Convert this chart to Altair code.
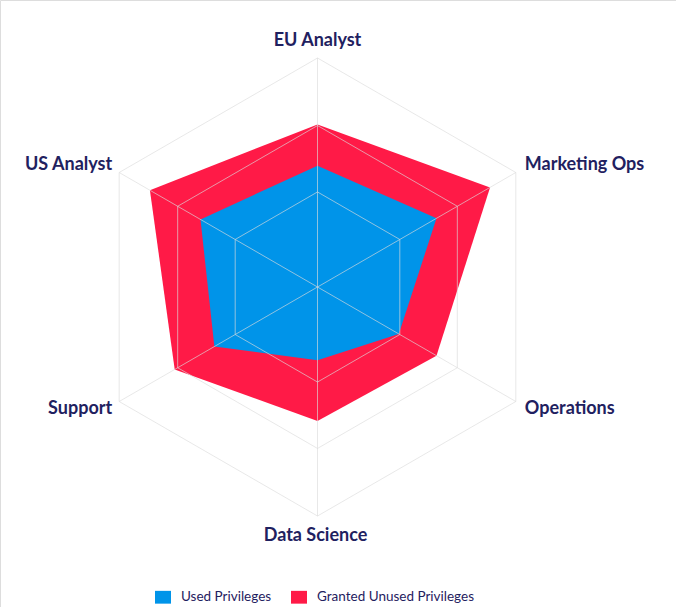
import math
import pandas as pd
import altair as alt

categories = ["EU Analyst", "Marketing Ops", "Operations", "Data Science", "Support", "US Analyst"]
used = [0.53, 0.60, 0.41, 0.32, 0.52, 0.59]
granted = [0.71, 0.87, 0.60, 0.585, 0.72, 0.845]
grid_levels = [0.415, 0.705, 1.0]
series = ["Used Privileges", "Granted Unused Privileges"]

BLUE = "#0094E9"
RED = "#FF1A47"
NAVY = "#1F2160"
GRID = "#dcdcdc"

angles = [math.radians(90 - 60 * i) for i in range(len(categories))]

# polygons
rows = []
for s, vals in [(series[1], granted), (series[0], used)]:
    for i, (c, v) in enumerate(zip(categories, vals)):
        rows.append({"series": s, "cat": c, "idx": i,
                     "x": v * math.cos(angles[i]), "y": v * math.sin(angles[i])})
poly = pd.DataFrame(rows)

grid_rows = []
for lv in grid_levels:
    for i in range(len(categories)):
        grid_rows.append({"level": lv, "idx": i,
                          "x": lv * math.cos(angles[i]), "y": lv * math.sin(angles[i])})
grid = pd.DataFrame(grid_rows)

spokes = pd.DataFrame([{"cat": c, "x0": 0.0, "y0": 0.0,
                        "x1": math.cos(a), "y1": math.sin(a)}
                       for c, a in zip(categories, angles)])

labels = pd.DataFrame([{"cat": c, "x": math.cos(a), "y": math.sin(a)}
                       for c, a in zip(categories, angles)])

R = 229.0
cx, cy = 317.5, 287.0
W, H = 676, 607
xs = alt.Scale(domain=[-cx / R, (W - cx) / R], nice=False, zero=False)
ys = alt.Scale(domain=[(cy - H) / R, cy / R], nice=False, zero=False)

color = alt.Color(
    "series:N",
    scale=alt.Scale(domain=series, range=[BLUE, RED]),
    legend=alt.Legend(
        title=None, orient="none", legendX=155, legendY=589,
        direction="horizontal",
        symbolType="M-1,-0.8H1V0.8H-1Z", symbolSize=256,
        symbolStrokeWidth=0, symbolOpacity=1,
        labelFont="Lato", labelFontSize=13.5, labelColor=NAVY,
        labelOffset=10, columnPadding=19,
    ),
)

def poly_layer(s):
    return alt.Chart(poly).transform_filter(alt.datum.series == s).mark_line(
        filled=True, interpolate="linear-closed", opacity=1
    ).encode(
        x=alt.X("x:Q", scale=xs, axis=None),
        y=alt.Y("y:Q", scale=ys, axis=None),
        order=alt.Order("idx:Q"),
        color=color,
    )

red_layer = poly_layer(series[1])
blue_layer = poly_layer(series[0])

grid_layer = alt.Chart(grid).mark_line(
    interpolate="linear-closed", stroke=GRID, strokeWidth=1, opacity=0.65
).encode(
    x=alt.X("x:Q", scale=xs, axis=None),
    y=alt.Y("y:Q", scale=ys, axis=None),
    order=alt.Order("idx:Q"),
    detail="level:N",
)

spoke_layer = alt.Chart(spokes).mark_rule(
    stroke=GRID, strokeWidth=1, opacity=0.65
).encode(
    x=alt.X("x0:Q", scale=xs, axis=None),
    y=alt.Y("y0:Q", scale=ys, axis=None),
    x2="x1:Q",
    y2="y1:Q",
)

offsets = {
    "EU Analyst": ("center", 0, -12),
    "Marketing Ops": ("left", 9, -3),
    "Operations": ("left", 9, 12),
    "Data Science": ("center", -2, 25),
    "Support": ("right", -7, 12),
    "US Analyst": ("right", -7, -3),
}

text_layers = []
for c in categories:
    al, dx, dy = offsets[c]
    text_layers.append(
        alt.Chart(labels).transform_filter(alt.datum.cat == c).mark_text(
            align=al, baseline="alphabetic", dx=dx, dy=dy,
            font="Lato", fontWeight="bold", fontSize=18, color=NAVY
        ).encode(
            x=alt.X("x:Q", scale=xs, axis=None),
            y=alt.Y("y:Q", scale=ys, axis=None),
            text="cat:N",
        )
    )

chart = alt.layer(red_layer, blue_layer, grid_layer, spoke_layer, *text_layers).properties(
    width=W, height=H,
    autosize=alt.AutoSizeParams(type="none"),
    padding=0,
).configure_view(stroke=None).configure(background="white")

chart.save("out.html", embed_options={"renderer": "svg", "actions": False})
